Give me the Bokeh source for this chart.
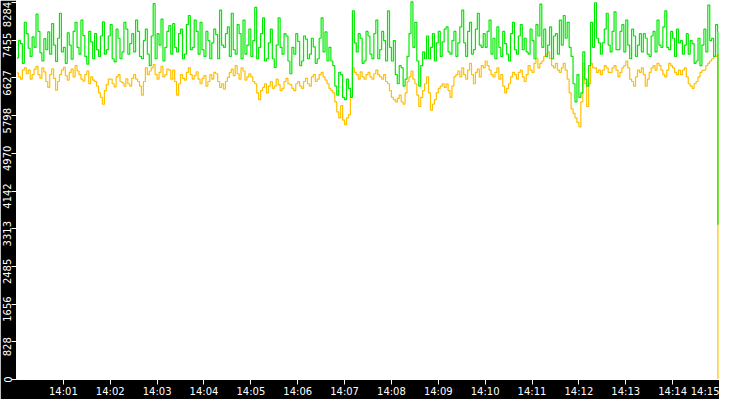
from datetime import datetime, timedelta

from bokeh.plotting import figure
from bokeh.models import (Range1d, FixedTicker, DatetimeTickFormatter,
                          ColumnDataSource, LinearAxis, CustomJSTickFormatter)
from bokeh.embed import file_html
from bokeh.resources import INLINE

# ---------------- data ----------------
start_time = datetime(2024, 1, 1, 14, 0, 0)
sample_seconds = 5          # readings on the 5 s marks
half_offset_seconds = 2.5   # readings between them
window_seconds = 900
end_offset_seconds = 898

green_values = [
    7070, 7380, 7850, 7280, 7530, 8030, 7180, 7490, 7640, 7820,
    6990, 8050, 7300, 7620, 7040, 7850, 7150, 7560, 6930, 7420,
    7600, 7100, 7860, 7250, 7800, 6980, 7500, 7200, 7700, 7380,
    7200, 7650, 7050, 7700, 6900, 8260, 7600, 7920, 7300, 7780,
    7820, 7200, 7700, 7150, 8000, 7300, 7650, 7850, 7100, 7450,
    7400, 7580, 8120, 7300, 7750, 8050, 7150, 7600, 7900, 7350,
    7100, 8180, 7300, 7950, 7050, 7700, 6860, 7950, 7150, 7550,
    6720, 7150, 7430, 7000, 7480, 7150, 7310, 7050, 7950, 7640,
    7300, 6900, 6250, 6700, 6150, 6400, 8100, 7200, 7500, 7000,
    7550, 7050, 7900, 7250, 7450, 8100, 7000, 6700, 6900, 6450,
    7100, 8300, 7850, 6450, 7200, 7550, 7300, 7000, 7650, 7420,
    7750, 7150, 7650, 7400, 8120, 7100, 7850, 7250, 8050, 7300,
    7300, 7900, 7500, 7750, 7100, 7380, 7000, 7850, 7150, 7800,
    7500, 7150, 7450, 7800, 8250, 7700, 7350, 7050, 7600, 7900,
    8000, 7850, 7100, 6100, 6200, 7200, 6450, 7850, 8280, 7400,
    7400, 8050, 7200, 8080, 7250, 7800, 7900, 7050, 7550, 7350,
    7200, 7500, 7100, 7650, 7900, 7300, 8100, 7250, 7500, 7700,
    7450, 7350, 7150, 7380, 7000, 6900, 7700, 8230, 7500, 7800,
]
green_half = [
    7450, 6950, 7600, 7100, 7300, 7650, 7000, 7250, 7150, 7350,
    7500, 7200, 6950, 7350, 7650, 7300, 7900, 7100, 7650, 7050,
    7250, 7550, 7150, 7550, 7050, 7700, 7050, 7850, 7150, 7600,
    7900, 7100, 7450, 7150, 7550, 7050, 7350, 7000, 7650, 7150,
    7300, 7600, 7050, 7800, 7250, 7900, 7150, 7250, 7650, 7050,
    7700, 7050, 7350, 7600, 7100, 7250, 7800, 7050, 7150, 7700,
    7450, 7050, 7600, 7000, 7400, 7050, 7350, 7300, 7600, 7000,
    7300, 7600, 6900, 7550, 7050, 7500, 6950, 7500, 7200, 7000,
    7000, 6450, 6750, 6200, 6600, 6200, 7400, 7600, 6950, 7650,
    7150, 7600, 7050, 7650, 7000, 7300, 7450, 6500, 6850, 6600,
    7600, 7300, 7000, 6900, 7050, 7050, 7600, 7400, 7100, 7700,
    7200, 7450, 7100, 7750, 7400, 7650, 7150, 7700, 7350, 7600,
    7650, 7150, 7050, 7300, 7650, 7150, 7600, 7250, 7550, 7250,
    7200, 7700, 7050, 7550, 7300, 7100, 7750, 7550, 7150, 7350,
    7500, 7300, 6500, 6700, 6300, 6600, 6900, 7300, 7500, 7150,
    7700, 7350, 7650, 7250, 7650, 7200, 7350, 7700, 7100, 7600,
    7600, 7150, 7550, 7200, 7350, 7750, 7300, 7650, 7100, 7400,
    7150, 7600, 7450, 6950, 7500, 7350, 7200, 7450, 7100, 7650,
]
green_end = 3400

orange_values = [
    6740, 6600, 6850, 6800, 6700, 6880, 6620, 6760, 6420, 6830,
    6360, 6700, 6860, 6580, 6820, 6900, 6700, 6560, 6780, 6650,
    6550, 6300, 6050, 6480, 6600, 6430, 6700, 6520, 6610, 6450,
    6700, 6550, 6250, 6850, 6780, 6920, 6600, 6880, 6700, 6800,
    6800, 6250, 6700, 6580, 6850, 6600, 6760, 6500, 6680, 6550,
    6600, 6720, 6420, 6380, 6640, 6820, 6900, 6600, 6780, 6650,
    6650, 6500, 6150, 6420, 6300, 6550, 6450, 6480, 6400, 6620,
    6480, 6350, 6550, 6400, 6620, 6450, 6700, 6600, 6750, 6580,
    6400, 6300, 5880, 6020, 5600, 5820, 6850, 6700, 6760, 6600,
    6750, 6600, 6800, 6650, 6700, 6500, 6200, 6100, 6250, 6050,
    6550, 6780, 6500, 6000, 6350, 6650, 5920, 6150, 6400, 6500,
    6500, 6200, 6650, 6780, 6850, 6600, 6950, 6500, 6820, 6900,
    7000, 6800, 6650, 6850, 6700, 6300, 6500, 6750, 6600, 6800,
    6550, 6900, 6750, 7050, 6950, 7100, 7200, 6900, 6950, 6750,
    6950, 6600, 5950, 5750, 5550, 6950, 6000, 6950, 6850, 6800,
    6800, 6850, 6750, 6900, 6650, 6850, 7000, 6600, 6450, 6800,
    6850, 6450, 6750, 6900, 6950, 6800, 6650, 6950, 6850, 6700,
    6700, 6850, 6500, 6400, 6550, 6750, 6800, 6950, 7050, 7100,
]
orange_half = [
    6650, 6800, 6720, 6600, 6820, 6700, 6850, 6550, 6700, 6620,
    6550, 6800, 6680, 6750, 6650, 6780, 6600, 6700, 6500, 6580,
    6450, 6200, 6350, 6600, 6500, 6650, 6550, 6450, 6500, 6620,
    6600, 6450, 6550, 6700, 6850, 6700, 6750, 6650, 6820, 6600,
    6550, 6500, 6620, 6750, 6700, 6680, 6600, 6620, 6450, 6700,
    6750, 6550, 6500, 6550, 6750, 6680, 6720, 6850, 6580, 6720,
    6550, 6300, 6350, 6500, 6450, 6400, 6600, 6350, 6550, 6500,
    6400, 6500, 6450, 6550, 6500, 6650, 6550, 6700, 6650, 6500,
    6350, 6100, 5750, 5700, 5750, 6200, 6750, 6600, 6650, 6700,
    6650, 6720, 6700, 6600, 6550, 6350, 6150, 6180, 6100, 6300,
    6650, 6600, 6250, 6200, 6500, 6300, 6050, 6300, 6450, 6420,
    6350, 6450, 6700, 6650, 6700, 6800, 6700, 6750, 6650, 6850,
    6900, 6700, 6750, 6600, 6450, 6400, 6650, 6700, 6750, 6650,
    6700, 6800, 6950, 6850, 7000, 7150, 7050, 6850, 6800, 6850,
    6800, 6300, 5850, 5650, 6100, 6500, 6500, 6850, 6750, 6700,
    6900, 6750, 6850, 6800, 6750, 6900, 6850, 6550, 6650, 6750,
    6700, 6600, 6850, 6800, 6900, 6700, 6800, 6900, 6750, 6800,
    6800, 6650, 6450, 6500, 6650, 6800, 6900, 7000, 7100, 7150,
]
orange_end = 0

y_tick_labels = ["0", "828", "1656", "2485", "3313", "4142",
                 "4970", "5798", "6627", "7455", "8284"]
y_max = 8330
x_tick_minutes = list(range(1, 16))

# ---------------- derived table ----------------
times, green, orange = [], [], []
for i in range(len(green_values)):
    base_t = start_time + timedelta(seconds=sample_seconds * i)
    times.append(base_t)
    green.append(green_values[i])
    orange.append(orange_values[i])
    times.append(base_t + timedelta(seconds=half_offset_seconds))
    green.append(green_half[i])
    orange.append(orange_half[i])
times.append(start_time + timedelta(seconds=end_offset_seconds))
green.append(green_end)
orange.append(orange_end)

epoch = datetime(1970, 1, 1)
t0_ms = (start_time - epoch).total_seconds() * 1000.0
x_ticks = [t0_ms + m * 60000.0 for m in x_tick_minutes]
y_ticks = [int(s) for s in y_tick_labels]

FIG_W, FIG_H = 719, 399
BORDER_L, BORDER_B = 15, 17
frame_h = FIG_H - BORDER_B
units_per_px = y_max / frame_h

# label anchors: labels sit a little below their tick; the end ones are kept
# inside the plot height
label_pos = []
for k, v in enumerate(y_ticks):
    if k == 0:
        label_pos.append(v)
    elif k == len(y_ticks) - 1:
        label_pos.append(v - 12 * units_per_px)
    else:
        label_pos.append(v - 5 * units_per_px)

src = ColumnDataSource(dict(t=times, g=green, o=orange))

p = figure(width=FIG_W, height=FIG_H, x_axis_type="datetime",
           x_range=Range1d(start_time, start_time + timedelta(seconds=window_seconds)),
           y_range=Range1d(0, y_max),
           output_backend="svg", toolbar_location=None,
           min_border_left=BORDER_L, min_border_right=0,
           min_border_top=0, min_border_bottom=BORDER_B)
p.background_fill_color = "white"
p.border_fill_color = "black"
p.outline_line_color = None
p.grid.visible = False

p.step("t", "o", source=src, mode="after", line_color="#ffc000", line_width=1.2)
p.step("t", "g", source=src, mode="after", line_color="#00ea00", line_width=1.2)

xa = p.xaxis[0]
xa.ticker = FixedTicker(ticks=x_ticks)
fmt = "%H:%M"
xa.formatter = DatetimeTickFormatter(seconds=fmt, minsec=fmt, minutes=fmt,
                                     hourmin=fmt, hours=fmt)
xa.axis_line_color = "white"
xa.major_tick_line_color = "white"
xa.major_tick_out = 5
xa.major_tick_in = 0
xa.minor_tick_line_color = None
xa.major_label_text_color = "white"
xa.major_label_text_font = "DejaVu Sans"
xa.major_label_text_font_size = "10px"
xa.major_label_standoff = 1

# tick marks only
ya = p.yaxis[0]
ya.ticker = FixedTicker(ticks=y_ticks)
ya.axis_line_color = "white"
ya.major_tick_line_color = "white"
ya.major_tick_out = 5
ya.major_tick_in = 0
ya.minor_tick_line_color = None
ya.major_label_text_color = None
ya.major_label_text_font_size = "0px"
ya.major_label_standoff = 0

# rotated tick labels
ylab = LinearAxis(ticker=FixedTicker(ticks=label_pos),
                  formatter=CustomJSTickFormatter(args=dict(labs=y_tick_labels),
                                                  code="return labs[index];"))
ylab.axis_line_color = None
ylab.major_tick_line_color = None
ylab.minor_tick_line_color = None
ylab.major_tick_out = 0
ylab.major_tick_in = 0
ylab.major_label_standoff = 0
ylab.major_label_orientation = "vertical"
ylab.major_label_text_color = "white"
ylab.major_label_text_font = "DejaVu Sans"
ylab.major_label_text_font_size = "10px"
p.add_layout(ylab, "left")

open("out.html", "w").write(file_html(p, INLINE))
